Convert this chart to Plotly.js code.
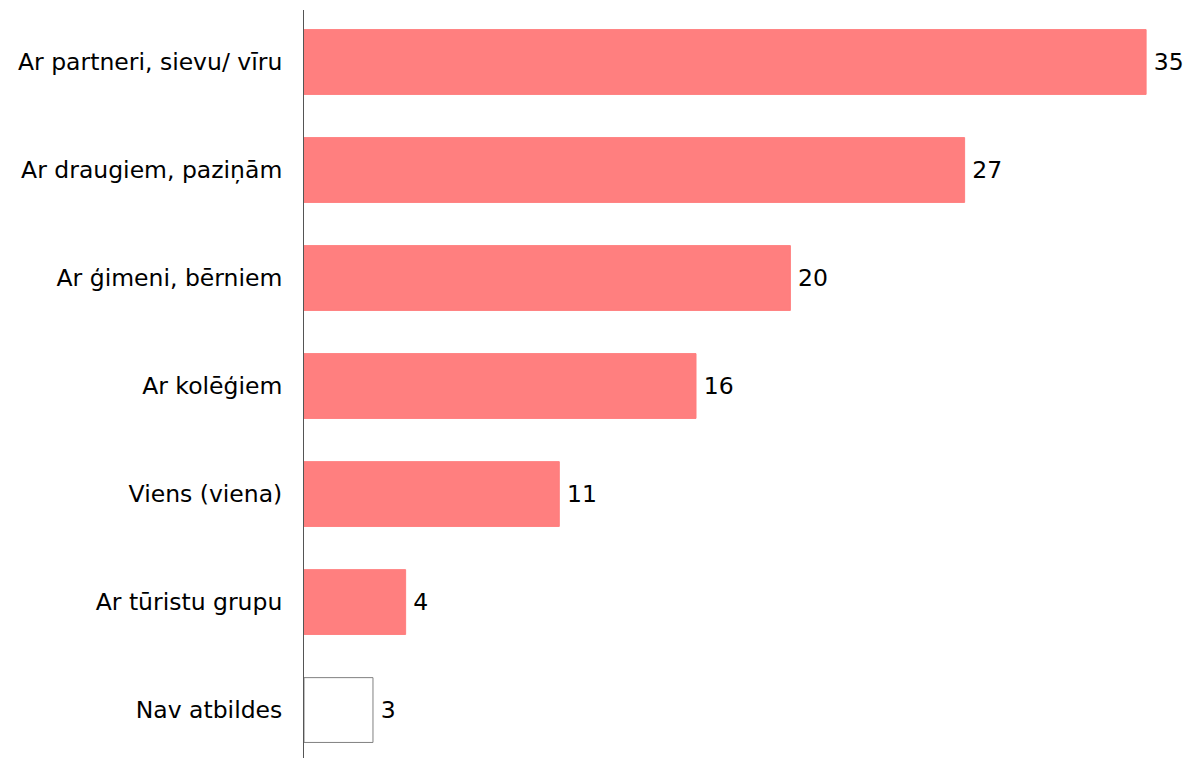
<!DOCTYPE html>
<html>
<head>
<meta charset="utf-8">
<script src="https://cdn.plot.ly/plotly-3.0.1.min.js"></script>
<style>html,body{margin:0;padding:0;background:#fff;}#chart{width:1187px;height:758px;}</style>
</head>
<body>
<div id="chart"></div>
<script>
const categories = ["Ar partneri, sievu/ vīru", "Ar draugiem, paziņām", "Ar ģimeni, bērniem", "Ar kolēģiem", "Viens (viena)", "Ar tūristu grupu", "Nav atbildes"];
const values = [34.8, 27.3, 20.1, 16.2, 10.55, 4.2, 2.85];
const labels = ["35", "27", "20", "16", "11", "4", "3"];
const barColors = ["#FF7F7F", "#FF7F7F", "#FF7F7F", "#FF7F7F", "#FF7F7F", "#FF7F7F", "#FFFFFF"];
const lineColors = ["#FF7F7F", "#FF7F7F", "#FF7F7F", "#FF7F7F", "#FF7F7F", "#FF7F7F", "#808080"];

const font = {family: "DejaVu Sans, Verdana, sans-serif", size: 23.5, color: "#000"};

Plotly.newPlot("chart", [{
  type: "bar",
  orientation: "h",
  x: values,
  y: categories,
  text: labels.map(l => "\u2009" + l),
  textposition: "outside",
  cliponaxis: false,
  textfont: font,
  marker: {color: barColors, line: {color: lineColors, width: 1}},
  hoverinfo: "none"
}], {
  width: 1187, height: 758,
  margin: {l: 304, r: 0, t: 10, b: 0},
  paper_bgcolor: "#fff", plot_bgcolor: "#fff",
  bargap: 0.4,
  showlegend: false,
  font: font,
  xaxis: {range: [0, 36.49], visible: false, fixedrange: true},
  yaxis: {
    type: "category",
    range: [6.444, -0.4815],
    showline: true, linecolor: "#555", linewidth: 1,
    showgrid: false, zeroline: false,
    ticks: "", ticklabelstandoff: 16,
    tickfont: font, fixedrange: true
  }
}, {displayModeBar: false, staticPlot: true});
</script>
</body>
</html>
